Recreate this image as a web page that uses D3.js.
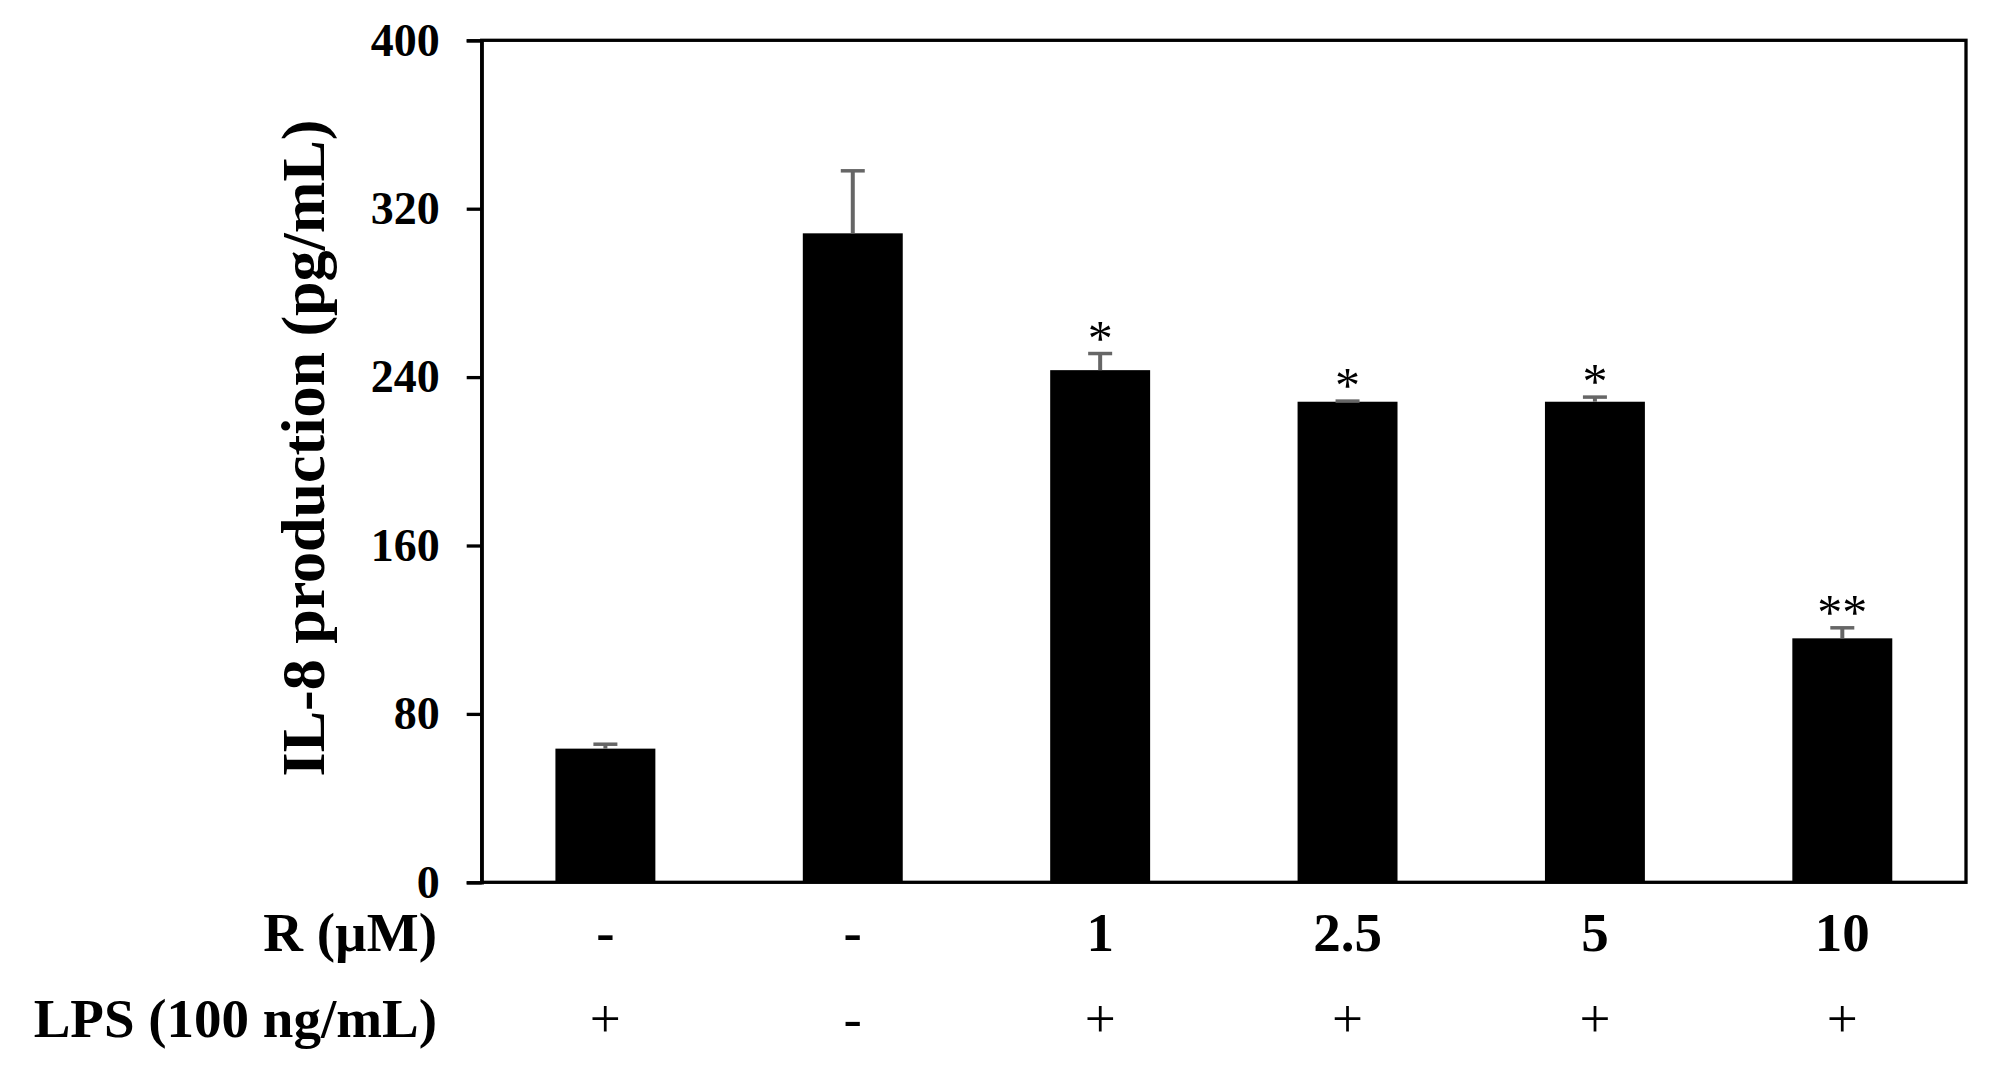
<!DOCTYPE html>
<html>
<head>
<meta charset="utf-8">
<script src="https://cdn.jsdelivr.net/npm/d3@7/dist/d3.min.js"></script>
<style>
  html, body { margin: 0; padding: 0; background: #fff; }
  svg { display: block; }
  text { font-family: "Liberation Serif", "Times New Roman", serif; fill: #000; }
</style>
</head>
<body>
<svg id="chart" width="2006" height="1090"></svg>
<script>
// ---- data ----
const categories = ["g1", "g2", "g3", "g4", "g5", "g6"];
const values = [63.5, 308.3, 243.3, 228.3, 228.3, 115.9];
const errors = [2.1, 29.7, 7.9, 0.3, 2.2, 5.0];
const stars = ["", "", "*", "*", "*", "**"];
const rLabels = ["-", "-", "1", "2.5", "5", "10"];
const lpsLabels = ["+", "-", "+", "+", "+", "+"];
const yTicks = [0, 80, 160, 240, 320, 400];
const yTitle = "IL-8 production (pg/mL)";
const rTitle = "R (\u00B5M)";
const lpsTitle = "LPS (100 ng/mL)";

// ---- layout ----
const margin = { left: 481.7, top: 40.3, right: 2006 - 1966, bottom: 1090 - 882.3 };
const W = 2006, H = 1090;
const iw = W - margin.left - margin.right;
const ih = H - margin.top - margin.bottom;

const svg = d3.select("#chart");
const g = svg.append("g").attr("transform", `translate(${margin.left},${margin.top})`);

const x = d3.scaleBand().domain(categories).range([0, iw]).paddingInner(0.596).paddingOuter(0.298);
const y = d3.scaleLinear().domain([0, 400]).range([ih, 0]);

// bars
g.selectAll("rect.bar").data(categories).join("rect")
  .attr("class", "bar")
  .attr("x", d => x(d))
  .attr("width", x.bandwidth())
  .attr("y", (d, i) => y(values[i]))
  .attr("height", (d, i) => ih - y(values[i]))
  .attr("fill", "#000");

// error bars
const errColor = "#666666";
const capW = 24;
categories.forEach((d, i) => {
  const cx = x(d) + x.bandwidth() / 2;
  const top = y(values[i] + errors[i]);
  g.append("line").attr("x1", cx).attr("x2", cx)
    .attr("y1", y(values[i])).attr("y2", top)
    .attr("stroke", errColor).attr("stroke-width", 4);
  g.append("line").attr("x1", cx - capW / 2).attr("x2", cx + capW / 2)
    .attr("y1", top).attr("y2", top)
    .attr("stroke", errColor).attr("stroke-width", 3.5);
});

// significance stars
g.selectAll("text.star").data(categories).join("text")
  .attr("class", "star")
  .attr("x", d => x(d) + x.bandwidth() / 2)
  .attr("y", (d, i) => y(values[i] + errors[i]) + 1)
  .attr("text-anchor", "middle")
  .attr("font-size", 50)
  .text((d, i) => stars[i]);

// frame
g.append("rect").attr("x", 0).attr("y", 0).attr("width", iw).attr("height", ih)
  .attr("fill", "none").attr("stroke", "#000").attr("stroke-width", 3.3);

// y axis
const yAxis = d3.axisLeft(y).tickValues(yTicks).tickSize(15).tickPadding(27).tickFormat(d3.format("d"));
const ya = g.append("g").call(yAxis);
ya.select(".domain").attr("stroke", "#000").attr("stroke-width", 3.3);
ya.selectAll(".tick line").attr("stroke", "#000").attr("stroke-width", 3.3);
ya.selectAll(".tick text")
  .attr("font-family", "'Liberation Serif', 'Times New Roman', serif")
  .attr("font-size", 46).attr("font-weight", "bold").attr("fill", "#000");

// y axis title
svg.append("text")
  .attr("transform", `translate(324,448) rotate(-90)`)
  .attr("text-anchor", "middle")
  .attr("font-size", 62).attr("font-weight", "bold")
  .text(yTitle);

// row labels under the axis
const rowR = 951, rowL = 1037;
svg.append("text").attr("x", 437).attr("y", rowR).attr("text-anchor", "end")
  .attr("font-size", 55).attr("font-weight", "bold").text(rTitle);
svg.append("text").attr("x", 437).attr("y", rowL).attr("text-anchor", "end")
  .attr("font-size", 55).attr("font-weight", "bold").text(lpsTitle);

g.selectAll("text.rlab").data(categories).join("text")
  .attr("class", "rlab")
  .attr("x", d => x(d) + x.bandwidth() / 2)
  .attr("y", rowR - margin.top)
  .attr("text-anchor", "middle")
  .attr("font-size", 55).attr("font-weight", "bold")
  .text((d, i) => rLabels[i]);

g.selectAll("text.llab").data(categories).join("text")
  .attr("class", "llab")
  .attr("x", d => x(d) + x.bandwidth() / 2)
  .attr("y", rowL - margin.top)
  .attr("text-anchor", "middle")
  .attr("font-size", 55)
  .text((d, i) => lpsLabels[i]);
</script>
</body>
</html>
